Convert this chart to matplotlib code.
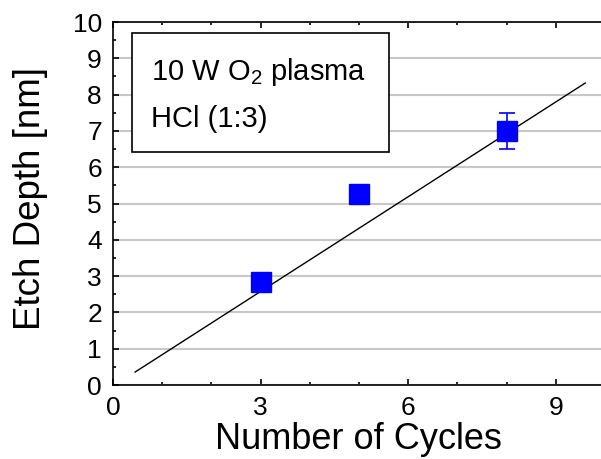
import matplotlib.pyplot as plt
from matplotlib.patches import Rectangle
from matplotlib.ticker import MultipleLocator

plt.rcParams['font.family'] = ['Liberation Sans', 'DejaVu Sans']
plt.rcParams['mathtext.fontset'] = 'custom'
plt.rcParams['mathtext.rm'] = 'Liberation Sans'

# measured points
cycles = [3, 5, 8]
depth = [2.85, 5.25, 7.0]
depth_err = [0.1, 0.1, 0.5]

# linear fit line end points
fit_x = [0.45, 9.6]
fit_y = [0.36, 8.32]

fig = plt.figure(figsize=(6.01, 4.59), dpi=100)
ax = fig.add_axes([0.188, 0.161, 0.812, 0.791])

ax.grid(True, axis='y', color='#c8c8c8', linewidth=1.5)
ax.set_axisbelow(True)

ax.plot(fit_x, fit_y, color='black', linewidth=1.0)
ax.errorbar(cycles, depth, yerr=depth_err, fmt='s', color='blue', ecolor='blue',
            markersize=14, capsize=6, elinewidth=1.2, capthick=1.2, zorder=3)

ax.set_xlim(0, 9.92)
ax.set_ylim(0, 10)
ax.xaxis.set_major_locator(MultipleLocator(3))
ax.xaxis.set_minor_locator(MultipleLocator(1))
ax.yaxis.set_major_locator(MultipleLocator(1))
ax.yaxis.set_minor_locator(MultipleLocator(0.5))
ax.tick_params(which='both', direction='in', top=True, right=False, labelsize=19, width=1.2, pad=8)
ax.tick_params(which='major', length=4)
ax.tick_params(which='minor', length=2)
ax.spines['right'].set_visible(False)
for s in ['left', 'bottom', 'top']:
    ax.spines[s].set_linewidth(1.2)

ax.set_xlabel('Number of Cycles', fontsize=26, va='top')
ax.xaxis.set_label_coords(0.502, -0.103)
ax.set_ylabel('Etch Depth [nm]', fontsize=26.5)
ax.yaxis.set_label_coords(-0.133, 0.515)

# legend-like box
ax.add_patch(Rectangle((0.039, 0.642), 0.527, 0.328, transform=ax.transAxes,
                       facecolor='white', edgecolor='black', linewidth=1.2, zorder=4))
ax.text(0.078, 0.840, '10 W O$_2$ plasma', transform=ax.transAxes,
        fontsize=21, va='baseline', ha='left', zorder=5)
ax.text(0.078, 0.711, 'HCl (1:3)', transform=ax.transAxes,
        fontsize=21, va='baseline', ha='left', zorder=5)

fig.savefig('out.png', dpi=100)
